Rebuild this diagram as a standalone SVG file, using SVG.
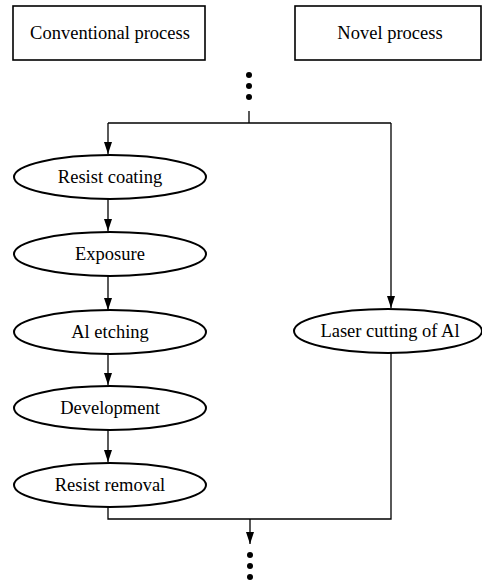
<svg xmlns="http://www.w3.org/2000/svg" width="482" height="584" viewBox="0 0 482 584">
<defs>
<style>
text{font-family:"Liberation Serif","Times New Roman",serif;font-size:18.5px;fill:#000;text-anchor:middle}
.box{fill:#fff;stroke:#000;stroke-width:1.6}
.ell{fill:#fff;stroke:#000;stroke-width:2}
.con{fill:none;stroke:#000;stroke-width:1.3}
.dot{fill:#000}
</style>
<marker id="ah" viewBox="0 0 12 10" refX="12" refY="5" markerWidth="12" markerHeight="10" markerUnits="userSpaceOnUse" orient="auto">
<path d="M0,1 L12,5 L0,9 Z" fill="#000"/>
</marker>
</defs>
<rect width="482" height="584" fill="#fff"/>
<g id="conventional-header"><rect class="box" x="13" y="6" width="192" height="54"/><text x="110" y="39">Conventional process</text></g>
<g id="novel-header"><rect class="box" x="295" y="6" width="186" height="54"/><text x="390" y="39">Novel process</text></g>
<g id="dots-top"><circle class="dot" cx="249" cy="75" r="3"/><circle class="dot" cx="249" cy="86" r="3"/><circle class="dot" cx="249" cy="97" r="3"/></g>
<g id="dots-bottom"><circle class="dot" cx="250" cy="555" r="3"/><circle class="dot" cx="250" cy="566" r="3"/><circle class="dot" cx="250" cy="577" r="3"/></g>
<g id="connectors">
<path class="con" d="M249,111 V123"/>
<path class="con" d="M108,123 H391"/>
<path class="con" d="M108,123 V154" marker-end="url(#ah)"/>
<path class="con" d="M391,123 V308" marker-end="url(#ah)"/>
<path class="con" d="M108,199 V231" marker-end="url(#ah)"/>
<path class="con" d="M108,276 V310" marker-end="url(#ah)"/>
<path class="con" d="M108,355 V385" marker-end="url(#ah)"/>
<path class="con" d="M108,430 V462" marker-end="url(#ah)"/>
<path class="con" d="M108,507 V519 H391 V353"/>
<path class="con" d="M250,519 V544" marker-end="url(#ah)"/>
</g>
<g id="resist-coating"><ellipse class="ell" cx="110" cy="177" rx="96" ry="22"/><text x="110" y="183">Resist coating</text></g>
<g id="exposure"><ellipse class="ell" cx="110" cy="254" rx="96" ry="22"/><text x="110" y="260">Exposure</text></g>
<g id="al-etching"><ellipse class="ell" cx="110" cy="332" rx="96" ry="22"/><text x="110" y="338">Al etching</text></g>
<g id="development"><ellipse class="ell" cx="110" cy="408" rx="96" ry="22"/><text x="110" y="414">Development</text></g>
<g id="resist-removal"><ellipse class="ell" cx="110" cy="485" rx="96" ry="22"/><text x="110" y="491">Resist removal</text></g>
<g id="laser-cutting"><ellipse class="ell" cx="388" cy="331" rx="94" ry="22"/><text x="390" y="337">Laser cutting of Al</text></g>
</svg>
